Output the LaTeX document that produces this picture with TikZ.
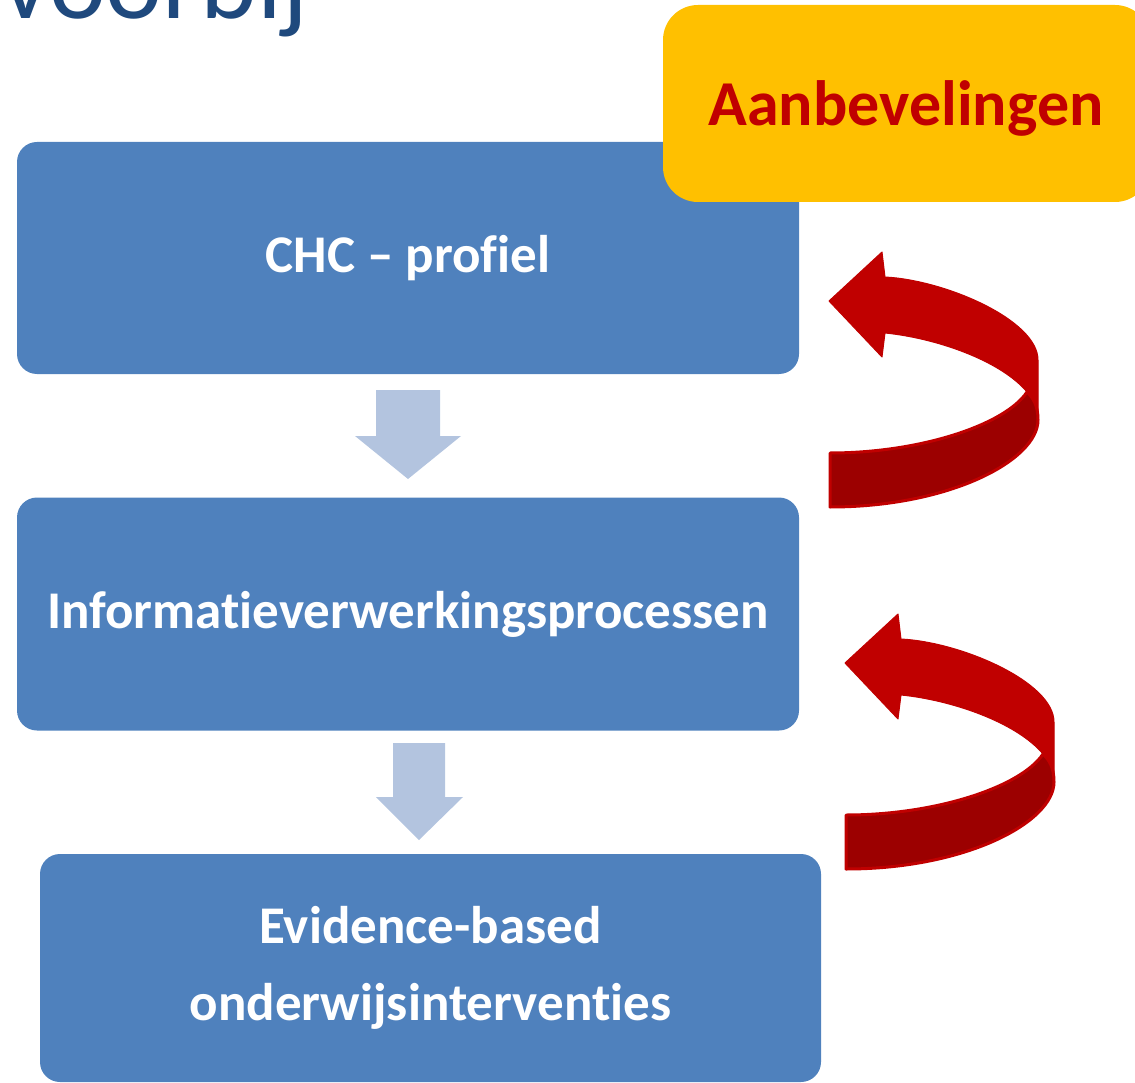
\documentclass[tikz,border=0pt]{standalone}
\usepackage{fontspec}
\setmainfont{Carlito}[Ligatures={NoCommon}, RawFeature={-liga;-dlig}]
\definecolor{boxblue}{HTML}{4F81BD}
\definecolor{flowblue}{HTML}{B3C4DF}
\definecolor{titleblue}{HTML}{1F497D}
\definecolor{note}{HTML}{FFC000}
\definecolor{redA}{HTML}{C00000}
\definecolor{redB}{HTML}{9C0000}
\tikzset{
  stepbox/.style={rectangle, rounded corners=20pt, fill=boxblue, inner sep=0pt,
    text=white, align=center, font=\bfseries\fontsize{53}{77}\selectfont},
  notebox/.style={rectangle, rounded corners=35pt, fill=note, inner sep=0pt,
    text=redA, font=\bfseries\fontsize{64}{80}\selectfont},
  flowarrow/.style={fill=flowblue},
  loopfront/.style={fill=redA, draw=redA, line width=1pt, line join=round},
  loopback/.style={fill=redB, draw=redA, line width=3pt, line join=round},
}
\begin{document}
\begin{tikzpicture}[x=1pt, y=-1pt]
\useasboundingbox (0,0) rectangle (1135,1083);
\clip (0,0) rectangle (1135,1083);

% heading, partly above the page edge
\node[anchor=base west, inner sep=0pt, text=titleblue,
  font=\fontsize{108}{108}\selectfont] (title) at (1,18.5) {voorbij};

% process steps
\node[stepbox, minimum width=782pt, minimum height=232pt] (chc) at (408,258) {CHC -- profiel};
\node[stepbox, minimum width=782pt, minimum height=233pt] (info) at (408,614) {Informatieverwerkingsprocessen};
\node[stepbox, minimum width=781pt, minimum height=228pt] (ebi) at (430.5,968) {Evidence-based\\onderwijsinterventies};

% recommendations label over the first step
\node[notebox, minimum width=487pt, minimum height=197pt] (adv) at (906.5,103.5) {};
\node[text=redA, font=\bfseries\fontsize{64}{80}\selectfont, anchor=base, inner sep=0pt]
  (advtext) at (906,126) {Aanbevelingen};

% downward block arrows between the steps
\fill[flowarrow] (376,390) -- (440,390) -- (440,436) -- (461,436) -- (408,479)
  -- (355,436) -- (376,436) -- cycle;
\fill[flowarrow] (393,743) -- (445,743) -- (445,797) -- (463,797) -- (419,840)
  -- (376,797) -- (393,797) -- cycle;

% curved feedback arrows
\foreach \dx/\dy in {0/0, 16/362} {
  \begin{scope}[shift={(\dx,\dy)}]
    \path[loopfront] (829,301) -- (882,252) -- (885,277)
      .. controls (945,280) and (1038,320) .. (1038,360)
      -- (1038,418) -- (1027,392)
      .. controls (1000,360) and (935,338) .. (885,333)
      -- (882,357) -- cycle;
    \path[loopback] (1027,392)
      .. controls (1005,425) and (920,453) .. (830,453)
      -- (830,507)
      .. controls (950,507) and (1038,460) .. (1038,420)
      .. controls (1038,405) and (1033,398) .. cycle;
  \end{scope}
}
\end{tikzpicture}
\end{document}
